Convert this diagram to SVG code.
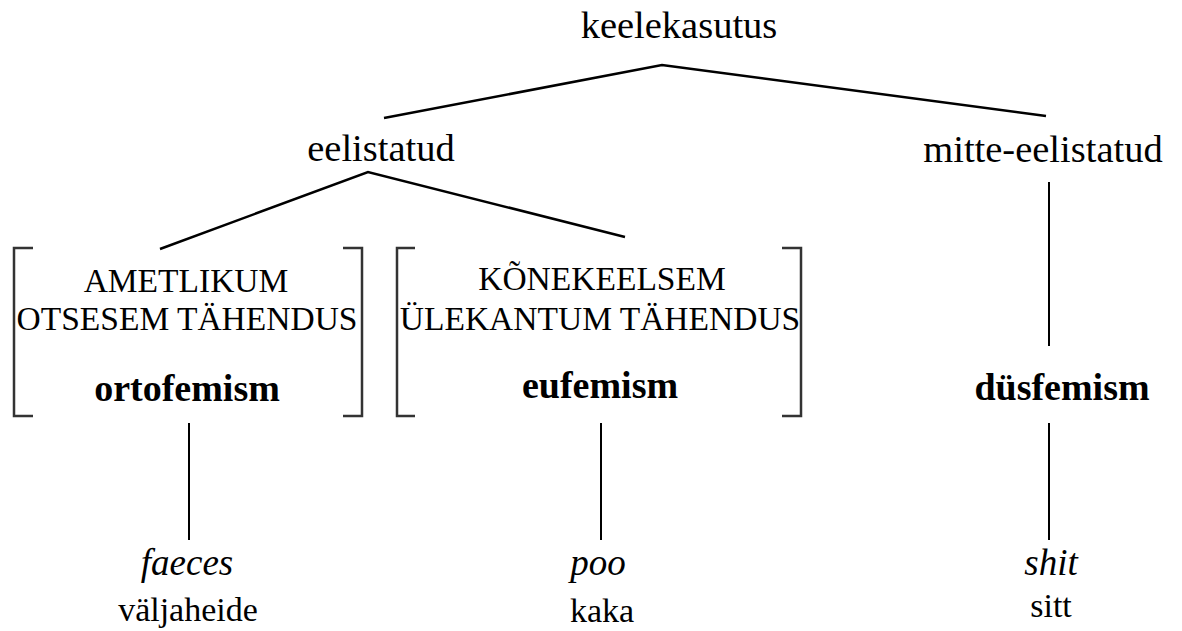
<svg xmlns="http://www.w3.org/2000/svg" width="1182" height="631" viewBox="0 0 1182 631">
<style>
text{font-family:"Liberation Serif","Times New Roman",serif;fill:#000;text-anchor:middle}
.lbl{font-size:38.5px}
.cap{font-size:33.5px}
.b{font-size:38px;font-weight:bold}
.it{font-size:37px;font-style:italic}
.ex{font-size:34px}
.ln{stroke:#000;stroke-width:2.5;fill:none}
.vl{stroke:#000;stroke-width:2;fill:none}
.br{stroke:#333;stroke-width:2.5;fill:none}
</style>
<rect width="1182" height="631" fill="#fff"/>
<g id="connectors">
<polyline class="ln" points="384,118 662,65 1046,116"/>
<polyline class="ln" points="160,249 368,172 625,237"/>
<line class="vl" x1="1049" y1="182" x2="1049" y2="346"/>
<line class="vl" x1="189" y1="423" x2="189" y2="540"/>
<line class="vl" x1="601" y1="423" x2="601" y2="540"/>
<line class="vl" x1="1049" y1="423" x2="1049" y2="540"/>
</g>
<g id="keelekasutus"><text class="lbl" x="679" y="38">keelekasutus</text></g>
<g id="eelistatud"><text class="lbl" x="381" y="161">eelistatud</text></g>
<g id="mitte-eelistatud"><text class="lbl" x="1043" y="162">mitte-eelistatud</text></g>
<g id="ortofemism">
<polyline class="br" points="33,248 14,248 14,416 33,416"/>
<polyline class="br" points="343,248 362,248 362,416 343,416"/>
<text class="cap" x="186" y="292">AMETLIKUM</text>
<text class="cap" x="187" y="330">OTSESEM TÄHENDUS</text>
<text class="b" x="187" y="401">ortofemism</text>
</g>
<g id="eufemism">
<polyline class="br" points="415,248 397,248 397,416 415,416"/>
<polyline class="br" points="782,248 801,248 801,416 782,416"/>
<text class="cap" x="602" y="290">KÕNEKEELSEM</text>
<text class="cap" x="600" y="330">ÜLEKANTUM TÄHENDUS</text>
<text class="b" x="600" y="398">eufemism</text>
</g>
<g id="dusfemism"><text class="b" x="1062" y="400">düsfemism</text></g>
<g id="faeces">
<text class="it" x="187" y="575">faeces</text>
<text class="ex" x="188" y="621">väljaheide</text>
</g>
<g id="poo">
<text class="it" x="598" y="575">poo</text>
<text class="ex" x="602" y="622">kaka</text>
</g>
<g id="shit">
<text class="it" x="1051" y="575">shit</text>
<text class="ex" x="1051" y="617">sitt</text>
</g>
</svg>
